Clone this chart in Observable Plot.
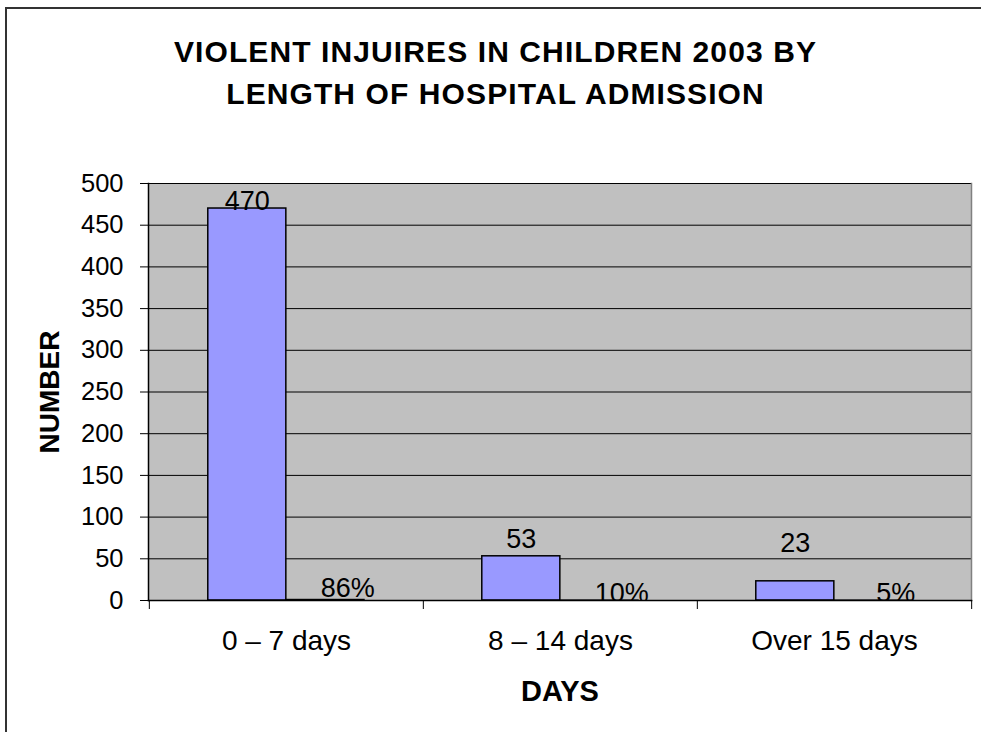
<!DOCTYPE html>
<html>
<head>
<meta charset="utf-8">
<script src="https://cdn.jsdelivr.net/npm/d3@7"></script>
<script src="https://cdn.jsdelivr.net/npm/@observablehq/plot@0.6"></script>
<style>
  html, body { margin: 0; padding: 0; background: #fff; overflow: hidden; font-family: "Liberation Sans", Arial, sans-serif; }
  #chart { position: relative; width: 981px; height: 732px; overflow: hidden; background: #fff; }
  .edge { position: absolute; background: #333; pointer-events: none; }
  #edgeTop { left: 5px; top: 7px; width: 976px; height: 2px; }
  #edgeLeft { left: 5px; top: 7px; width: 2px; height: 725px; }
  #rightPad { position: absolute; left: 975px; top: 9px; width: 6px; height: 723px; background: #fff; z-index: 5; }
  #title { height: 130px; box-sizing: border-box; padding-top: 31px; padding-left: 10px;
           text-align: center; font-weight: bold; font-size: 30px; line-height: 42px; letter-spacing: 1.1px; color: #000; }
  #plot svg { display: block; overflow: hidden; }
</style>
</head>
<body>
<div id="chart">
  <div id="title">VIOLENT INJUIRES IN CHILDREN 2003 BY<br>LENGTH OF HOSPITAL ADMISSION</div>
  <div id="plot"></div>
  <div class="edge" id="edgeTop"></div>
  <div class="edge" id="edgeLeft"></div>
  <div id="rightPad"></div>
</div>
<script>
// Admissions by length of stay
const categories = ["0 – 7 days", "8 – 14 days", "Over 15 days"];
const counts = [470, 53, 23];
const shares = [0.86, 0.10, 0.05];
const shareLabels = ["86%", "10%", "5%"];
const yTicks = [0, 50, 100, 150, 200, 250, 300, 350, 400, 450, 500];

const rows = categories.map((category, i) => ({
  category, count: counts[i], share: shares[i], shareLabel: shareLabels[i]
}));

// Layout
const W = 981, H = 602;
const mL = 148, mR = 10, mT = 53, mB = 132;
const bandW = (W - mL - mR) / categories.length;
const barW = bandW / 3.5;            // two bars per group, 150% gap
const inset = (bandW - barW) / 2;

// vertical nudges for the value labels (label placement only)
const countNudge = [-7, -17, -38];
const shareNudge = [-11, -7, -7];

const font = "'Liberation Sans', Arial, sans-serif";

const countLabels = rows.map((r, i) => Plot.text([r], {
  x: "category", y: "count", text: d => String(d.count),
  dx: -barW / 2, dy: countNudge[i], fontSize: 27, fill: "#000", lineAnchor: "middle"
}));
const shareTexts = rows.map((r, i) => Plot.text([r], {
  x: "category", y: "share", text: "shareLabel",
  dx: barW / 2 + 22, dy: shareNudge[i], fontSize: 27, fill: "#000", lineAnchor: "middle", clip: true
}));

const chart = Plot.plot({
  width: W, height: H,
  marginLeft: mL, marginRight: mR, marginTop: mT, marginBottom: mB,
  style: { fontFamily: font, background: "transparent", overflow: "hidden" },
  x: { domain: categories, padding: 0 },
  y: { domain: [0, 500] },
  marks: [
    Plot.frame({ fill: "#c0c0c0", stroke: null }),
    Plot.ruleY(yTicks.slice(1), { stroke: "#000", strokeWidth: 1 }),
    Plot.frame({ anchor: "right", stroke: "#808080", strokeWidth: 1.5 }),
    Plot.barY(rows, {
      x: "category", y: "count", fill: "#9999ff", stroke: "#000", strokeWidth: 1.5,
      insetLeft: inset, insetRight: inset, dx: -barW / 2
    }),
    Plot.barY(rows, {
      x: "category", y: "share", fill: "#9999ff", stroke: "#000", strokeWidth: 1,
      insetLeft: inset, insetRight: inset, dx: barW / 2
    }),
    ...countLabels,
    ...shareTexts,
    Plot.frame({ anchor: "left", stroke: "#000", strokeWidth: 1.5 }),
    Plot.frame({ anchor: "bottom", stroke: "#000", strokeWidth: 1.5 }),
    Plot.axisY({ ticks: yTicks, tickSize: 8, tickPadding: 17, fontSize: 25.5, label: null, stroke: "#000", color: "#000" }),
    Plot.axisX({ tickSize: 0, tickPadding: 30, fontSize: 28, label: null, color: "#000" }),
    Plot.axisX({ tickSize: 9, tickFormat: () => "", dx: -bandW / 2, label: null, stroke: "#000" }),
    Plot.axisX({ ticks: [categories[categories.length - 1]], tickSize: 9, tickFormat: () => "", dx: bandW / 2, label: null, stroke: "#000" }),
    Plot.text(["DAYS"], { text: d => d, frameAnchor: "bottom", dy: 91, fontSize: 29, fontWeight: "bold", fill: "#000", lineAnchor: "middle", textAnchor: "middle" }),
    Plot.text(["NUMBER"], { text: d => d, frameAnchor: "left", dx: -98, rotate: -90, fontSize: 28, fontWeight: "bold", fill: "#000", lineAnchor: "middle", textAnchor: "middle" })
  ]
});
document.getElementById("plot").appendChild(chart);
</script>
</body>
</html>
